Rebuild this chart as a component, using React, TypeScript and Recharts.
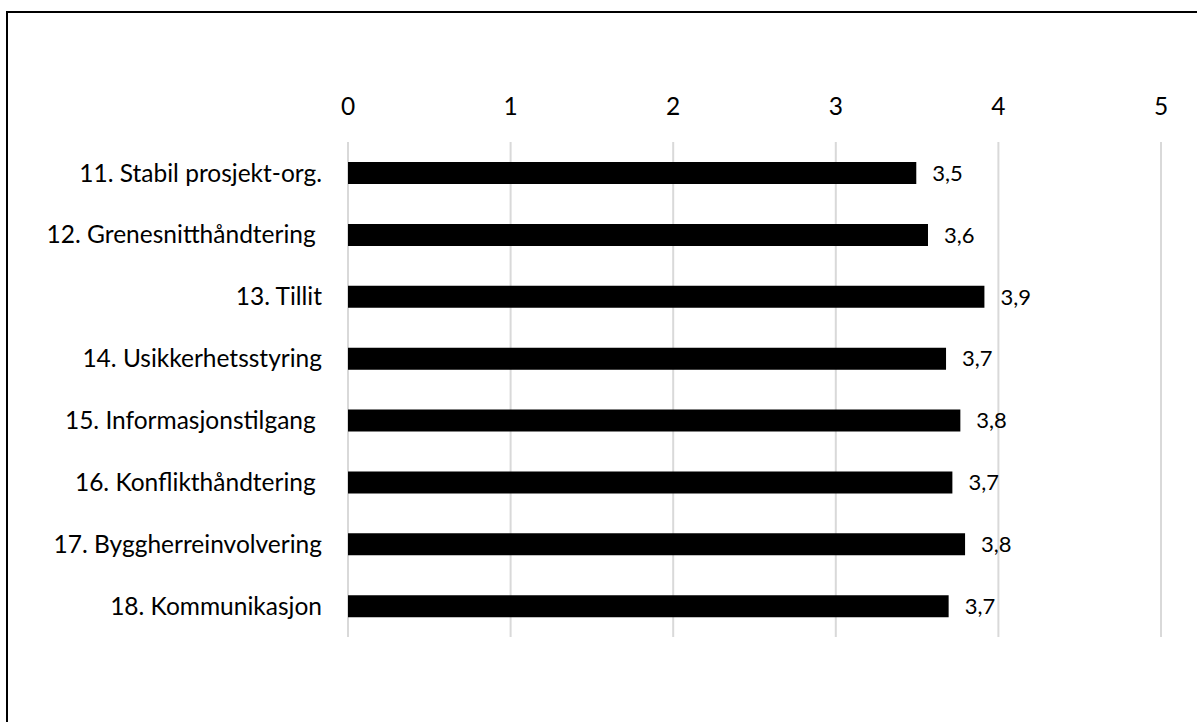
import React from 'react';
import { BarChart, Bar, XAxis, YAxis, CartesianGrid, LabelList } from 'recharts';

// Survey items (some names carry a trailing space, as typed in the source sheet)
const categories = [
  '11. Stabil prosjekt-org.',
  '12. Grenesnitthåndtering ',
  '13. Tillit',
  '14. Usikkerhetsstyring',
  '15. Informasjonstilgang ',
  '16. Konflikthåndtering ',
  '17. Byggherreinvolvering',
  '18. Kommunikasjon',
];

// Mean score per item (scale 0–5)
const scores = [3.495, 3.567, 3.914, 3.678, 3.766, 3.717, 3.795, 3.694];

const xTicks = [0, 1, 2, 3, 4, 5];

const data = categories.map((name, i) => ({ name, score: scores[i] }));

const FONT = 'Lato, "Noto Sans", sans-serif';

const formatScore = (v: number) => v.toFixed(1).replace('.', ',');

const CategoryTick = (props: any) => {
  const { x, y, payload } = props;
  return (
    <text
      x={x}
      y={y}
      dy="0.35em"
      textAnchor="end"
      fontFamily={FONT}
      fontSize={24.5}
      fill="#000"
      style={{ whiteSpace: 'pre' }}
    >
      {payload.value}
    </text>
  );
};

const ValueTick = (props: any) => {
  const { x, y, payload } = props;
  return (
    <text x={x} y={y} textAnchor="middle" fontFamily={FONT} fontSize={24.5} fill="#000">
      {payload.value}
    </text>
  );
};

export default function App() {
  return (
    <div
      style={{
        position: 'fixed',
        left: 0,
        top: 0,
        width: 1197,
        height: 722,
        overflow: 'hidden',
        background: '#fff',
      }}
    >
      <div
        style={{
          position: 'absolute',
          left: 6,
          top: 11,
          width: 1300,
          height: 800,
          borderLeft: '2px solid #000',
          borderTop: '2px solid #000',
        }}
      />
      <div style={{ position: 'absolute', left: 0, top: 0 }}>
        <BarChart
          width={1197}
          height={722}
          layout="vertical"
          data={data}
          margin={{ top: 60, right: 36, bottom: 85, left: 0 }}
          barCategoryGap="32%"
        >
          <CartesianGrid horizontal={false} stroke="#d9d9d9" strokeWidth={2} />
          <XAxis
            type="number"
            orientation="top"
            domain={[0, 5]}
            ticks={xTicks}
            interval={0}
            axisLine={false}
            tickLine={false}
            tickSize={0}
            tickMargin={27}
            height={82}
            tick={<ValueTick />}
          />
          <YAxis
            type="category"
            dataKey="name"
            width={348}
            axisLine={false}
            tickLine={false}
            tickSize={0}
            tickMargin={26}
            interval={0}
            tick={<CategoryTick />}
          />
          <Bar dataKey="score" fill="#000" barSize={22} isAnimationActive={false}>
            <LabelList
              dataKey="score"
              position="right"
              offset={16}
              formatter={(v: any) => formatScore(Number(v))}
              style={{ fontFamily: FONT, fontSize: 22, fill: '#000' }}
            />
          </Bar>
        </BarChart>
      </div>
    </div>
  );
}
